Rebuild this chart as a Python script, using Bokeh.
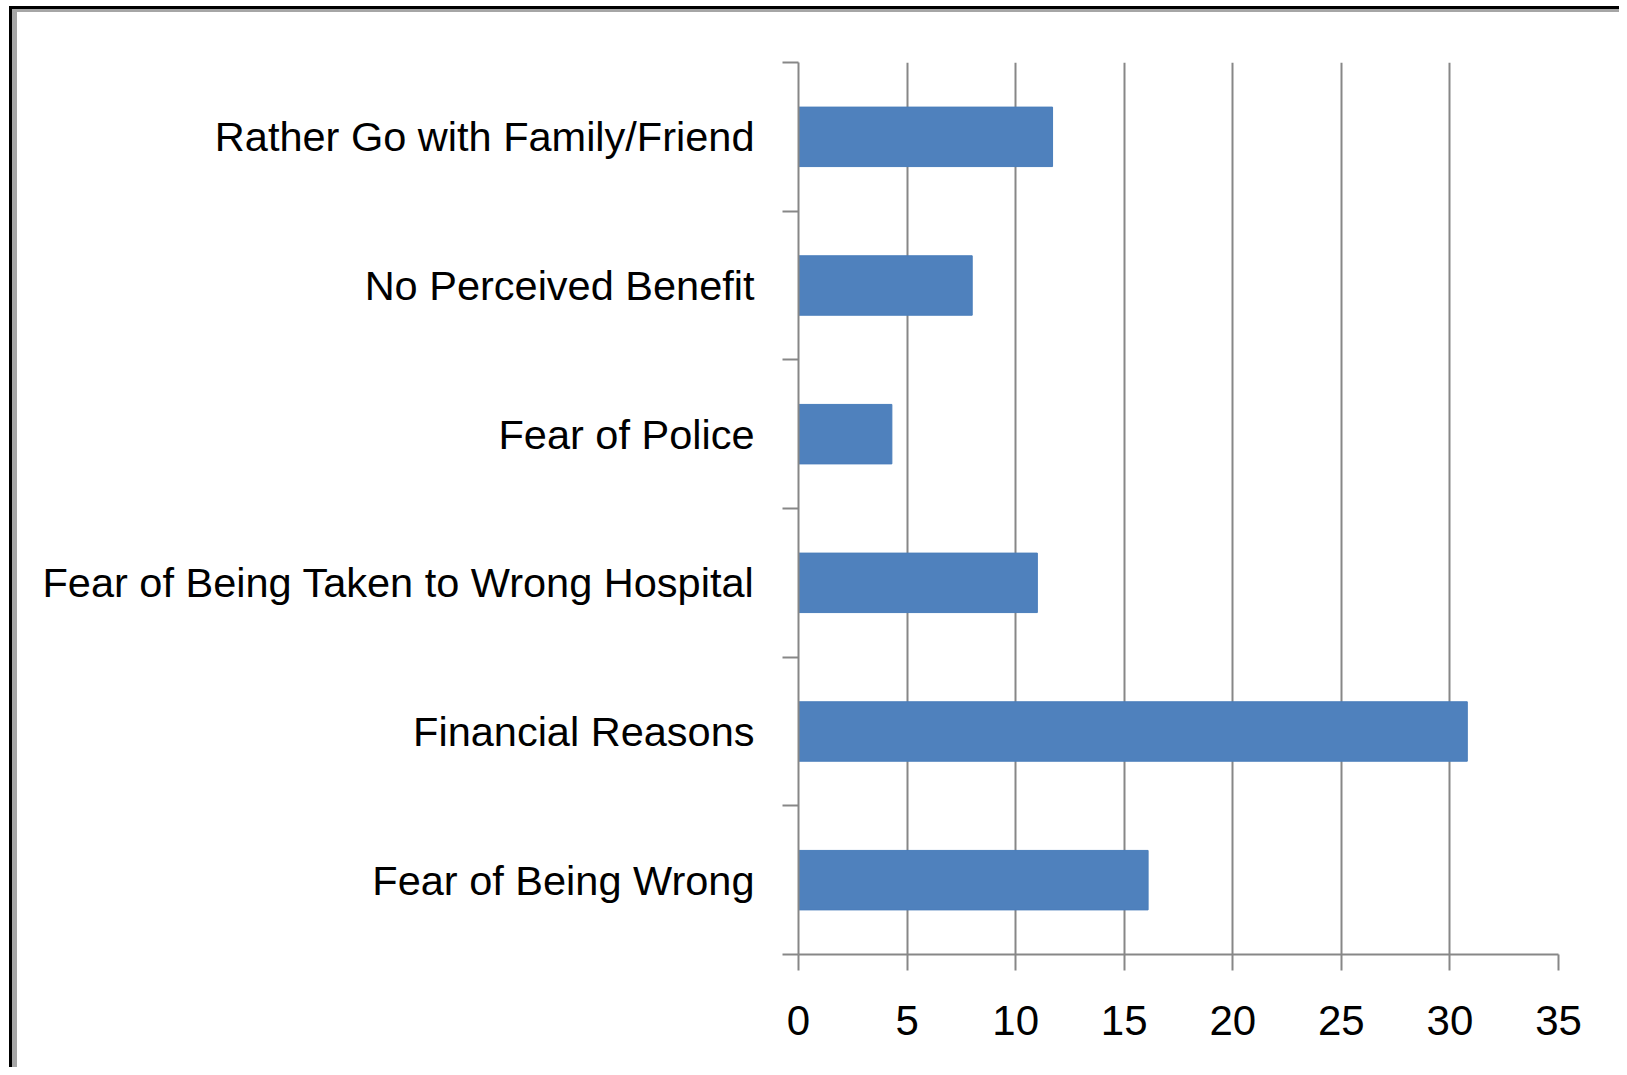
from bokeh.plotting import figure
from bokeh.models import Range1d, FixedTicker, ColumnDataSource
from bokeh.embed import file_html
from bokeh.resources import INLINE

# ---- data (bottom to top) ----
categories = [
    "Fear of Being Wrong",
    "Financial Reasons",
    "Fear of Being Taken to Wrong Hospital",
    "Fear of Police",
    "No Perceived Benefit",
    "Rather Go with Family/Friend",
]
values = [16.1, 30.8, 11.0, 4.3, 8.0, 11.7]
x_ticks = [0, 5, 10, 15, 20, 25, 30, 35]

n = len(categories)
centers = [i + 0.5 for i in range(n)]
bounds = [float(i) for i in range(n + 1)]

FONT = "Liberation Sans"
GRID = "#878787"

p = figure(
    width=1619, height=1067,
    output_backend="svg", toolbar_location=None,
    x_range=Range1d(0, x_ticks[-1]), y_range=Range1d(0, n),
    min_border_left=798, min_border_right=61,
    min_border_top=62, min_border_bottom=113,
)
p.outline_line_color = None
p.background_fill_color = "white"
p.border_fill_alpha = 0
p.styles = {"box-shadow": "inset 9px 6px 0 #fff, inset 12px 9px 0 #000, inset 17px 12px 0 #a6a6a6"}

src = ColumnDataSource(dict(y=centers, v=values, name=categories))
p.hbar(y="y", left=0, right="v", height=0.4, source=src,
       fill_color="#4F81BD", line_color="#4A7EBB", line_width=1)

# x axis
p.xaxis.ticker = FixedTicker(ticks=x_ticks)
p.xaxis.axis_line_color = GRID
p.xaxis.axis_line_width = 2
p.xaxis.major_tick_line_color = GRID
p.xaxis.major_tick_line_width = 2
p.xaxis.major_tick_out = 16
p.xaxis.major_tick_in = 0
p.xaxis.minor_tick_line_color = None
p.xaxis.major_label_text_font = FONT
p.xaxis.major_label_text_font_size = "42px"
p.xaxis.major_label_text_color = "#000000"
p.xaxis.major_label_standoff = 35

# y axis: labels at centres, ticks at category boundaries
p.yaxis.ticker = FixedTicker(ticks=centers, minor_ticks=bounds)
p.yaxis.major_label_overrides = {c: lab for c, lab in zip(centers, categories)}
p.yaxis.axis_line_color = GRID
p.yaxis.axis_line_width = 2
p.yaxis.major_tick_line_color = None
p.yaxis.major_tick_out = 0
p.yaxis.major_tick_in = 0
p.yaxis.minor_tick_line_color = GRID
p.yaxis.minor_tick_line_width = 2
p.yaxis.minor_tick_out = 16
p.yaxis.minor_tick_in = 0
p.yaxis.major_label_text_font = FONT
p.yaxis.major_label_text_font_size = "41.5px"
p.yaxis.major_label_text_color = "#000000"
p.yaxis.major_label_standoff = 28

p.xgrid.ticker = FixedTicker(ticks=x_ticks)
p.xgrid.grid_line_color = GRID
p.xgrid.grid_line_width = 2
p.ygrid.grid_line_color = None

open("out.html", "w").write(file_html(p, INLINE))
